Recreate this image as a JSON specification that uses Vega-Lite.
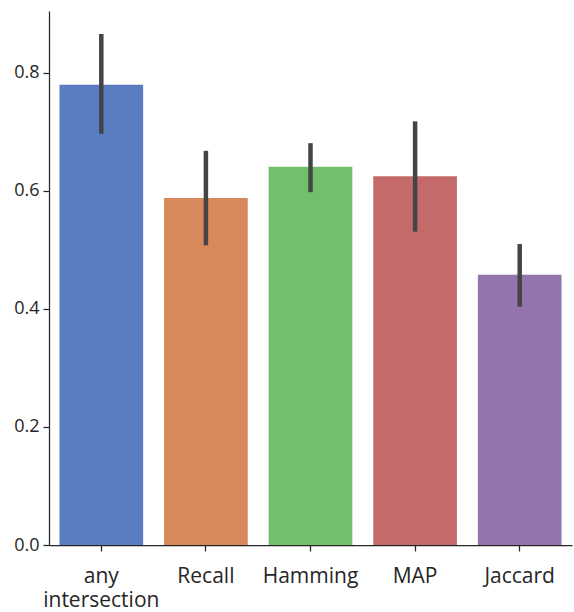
{
  "$schema": "https://vega.github.io/schema/vega-lite/v6.json",
  "autosize": {"type": "none"},
  "padding": {"left": 49, "top": 11, "right": 2, "bottom": 67},
  "width": 523,
  "height": 534,
  "background": "white",
  "config": {
    "view": {"stroke": null},
    "font": "Open Sans",
    "axis": {"grid": false, "domainColor": "#262626", "tickColor": "#262626", "labelColor": "#262626", "domainWidth": 1.25, "tickWidth": 1.25, "tickSize": 6, "title": null}
  },
  "data": {
    "values": [
      {"metric": "any intersection", "value": 0.780, "lo": 0.697, "hi": 0.866},
      {"metric": "Recall", "value": 0.588, "lo": 0.508, "hi": 0.668},
      {"metric": "Hamming", "value": 0.641, "lo": 0.598, "hi": 0.681},
      {"metric": "MAP", "value": 0.625, "lo": 0.531, "hi": 0.718},
      {"metric": "Jaccard", "value": 0.458, "lo": 0.404, "hi": 0.510}
    ]
  },
  "encoding": {
    "x": {
      "field": "metric", "type": "nominal", "sort": null,
      "scale": {"paddingInner": 0.2, "paddingOuter": 0.1},
      "axis": {"labelAngle": 0, "labelFontSize": 21, "labelPadding": 14, "labelLineHeight": 24,
               "labelExpr": "datum.value == 'any intersection' ? ['any', 'intersection'] : datum.value"}
    }
  },
  "layer": [
    {
      "mark": {"type": "bar"},
      "encoding": {
        "y": {"field": "value", "type": "quantitative",
              "scale": {"domain": [0, 0.905], "nice": false},
              "axis": {"values": [0, 0.2, 0.4, 0.6, 0.8], "format": ".1f", "labelFontSize": 18, "labelPadding": 4}},
        "color": {"field": "metric", "type": "nominal", "legend": null,
                  "scale": {"domain": ["any intersection", "Recall", "Hamming", "MAP", "Jaccard"],
                            "range": ["#5a7cc0", "#d8895c", "#74bf6e", "#c46a6a", "#9474ac"]}}
      }
    },
    {
      "mark": {"type": "rule", "color": "#444444", "strokeWidth": 4.5},
      "encoding": {
        "y": {"field": "lo", "type": "quantitative"},
        "y2": {"field": "hi"}
      }
    }
  ]
}
